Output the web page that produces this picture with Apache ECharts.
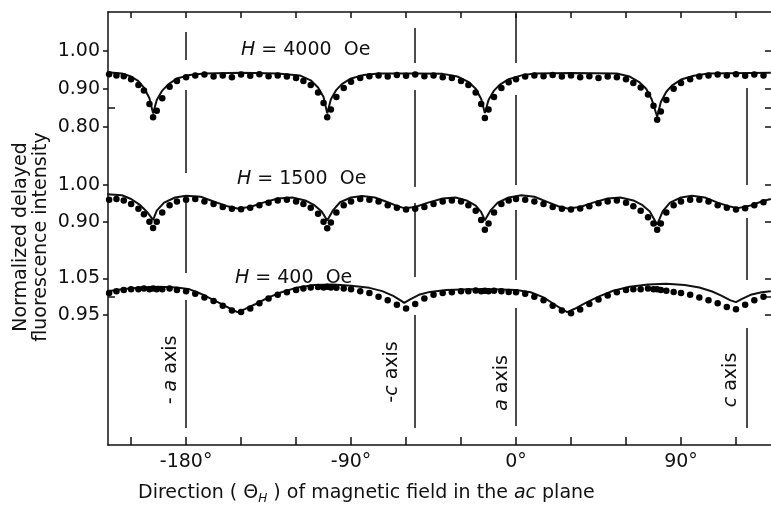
<!DOCTYPE html>
<html>
<head>
<meta charset="utf-8">
<script src="https://cdn.jsdelivr.net/npm/echarts@6/dist/echarts.min.js"></script>
<style>html,body{margin:0;background:#fff}#chart{width:771px;height:508px}</style>
</head>
<body>
<div id="chart"></div>
<script>
// measured angles (deg) shared by the three dot series
var dotAngles = [-222,-218,-214,-210,-206,-203,-200,-198,-196,-193,
  -189,-185,-180,-175,-170,-165,-160,-155,-150,-145,
  -140,-135,-130,-125,-120,-116,-112,-108,-105,-103,
  -101,-98,-94,-90,-85,-80,-75,-70,-65,-60,
  -55,-50,-45,-40,-35,-30,-26,-22,-19,-17,
  -15,-12,-8,-4,0,5,10,15,20,25,
  30,35,40,45,50,55,60,64,68,72,
  75,77,79,82,86,90,95,100,105,110,
  115,120,125,130,135];

var dots4000 = [0.938,0.935,0.933,0.925,0.91,0.895,0.86,0.825,0.842,0.875,
  0.905,0.92,0.93,0.935,0.937,0.932,0.935,0.93,0.937,0.934,
  0.938,0.933,0.935,0.932,0.928,0.92,0.91,0.89,0.862,0.825,
  0.845,0.878,0.902,0.918,0.928,0.933,0.935,0.932,0.936,0.934,
  0.937,0.933,0.935,0.93,0.928,0.92,0.91,0.89,0.86,0.823,
  0.845,0.878,0.902,0.917,0.925,0.932,0.935,0.933,0.936,0.932,
  0.935,0.93,0.933,0.928,0.932,0.93,0.925,0.915,0.903,0.885,
  0.855,0.818,0.84,0.87,0.9,0.915,0.925,0.932,0.935,0.937,
  0.935,0.938,0.934,0.937,0.935];

var dots1500 = [0.96,0.962,0.958,0.948,0.935,0.92,0.9,0.883,0.9,0.925,
  0.945,0.955,0.96,0.962,0.955,0.948,0.94,0.935,0.934,0.938,
  0.945,0.952,0.958,0.96,0.955,0.948,0.938,0.922,0.9,0.882,
  0.898,0.925,0.945,0.955,0.962,0.96,0.955,0.945,0.938,0.933,
  0.935,0.94,0.948,0.955,0.958,0.955,0.945,0.93,0.905,0.878,
  0.895,0.925,0.948,0.958,0.962,0.96,0.955,0.948,0.94,0.935,
  0.933,0.936,0.942,0.95,0.955,0.958,0.952,0.942,0.93,0.912,
  0.895,0.878,0.895,0.925,0.945,0.955,0.96,0.96,0.955,0.945,
  0.938,0.933,0.937,0.945,0.953];

var dots400 = [1.01,1.015,1.018,1.02,1.02,1.022,1.02,1.022,1.02,1.02,
  1.022,1.018,1.015,1.008,0.998,0.988,0.975,0.962,0.958,0.968,
  0.982,0.995,1.005,1.012,1.018,1.022,1.025,1.026,1.025,1.027,
  1.025,1.024,1.022,1.02,1.015,1.01,1.0,0.99,0.978,0.968,
  0.98,0.995,1.005,1.01,1.012,1.015,1.015,1.017,1.015,1.016,
  1.015,1.016,1.015,1.013,1.012,1.008,1.0,0.99,0.975,0.962,
  0.955,0.965,0.98,0.992,1.003,1.012,1.018,1.02,1.02,1.022,
  1.02,1.02,1.018,1.016,1.013,1.01,1.005,0.998,0.99,0.982,
  0.972,0.966,0.978,0.99,1.0];

// fitted curves
var fitAngles4000 = [-223,-215,-210,-206,-203,-200,-198,-196,-193,-190,
  -185,-178,-170,-150,-130,-118,-112,-108,-105,-103,
  -101,-98,-95,-90,-83,-75,-55,-40,-32,-26,
  -22,-19,-17,-15,-12,-9,-4,3,10,30,
  55,62,67,71,74,77,79,82,85,90,97,105,139];
var fit4000 = [0.943,0.94,0.932,0.92,0.903,0.875,0.835,0.87,0.895,0.91,
  0.927,0.936,0.94,0.942,0.94,0.935,0.922,0.903,0.878,0.835,
  0.872,0.897,0.912,0.927,0.936,0.94,0.94,0.939,0.932,0.918,
  0.9,0.873,0.836,0.87,0.895,0.91,0.925,0.935,0.94,0.941,
  0.94,0.932,0.918,0.9,0.872,0.826,0.865,0.892,0.908,0.924,0.934,0.94,0.942];

var fitAngles1500 = [-223,-215,-210,-205,-201,-198,-196,-192,-186,-180,
  -172,-165,-158,-152,-145,-138,-130,-122,-115,-110,
  -106,-103,-100,-96,-90,-84,-77,-70,-65,-61,
  -55,-48,-40,-33,-27,-22,-19,-17,-14,-10,
  -4,3,10,17,23,28,35,42,50,57,
  64,69,73,77,80,84,90,96,103,110,
  116,121,128,134,139];
var fit1500 = [0.975,0.972,0.962,0.945,0.925,0.905,0.93,0.952,0.966,0.971,
  0.968,0.955,0.943,0.936,0.94,0.952,0.963,0.966,0.958,0.945,
  0.928,0.903,0.93,0.953,0.966,0.97,0.966,0.953,0.943,0.937,
  0.94,0.952,0.963,0.966,0.958,0.944,0.926,0.904,0.93,0.952,
  0.966,0.972,0.968,0.954,0.942,0.936,0.94,0.952,0.963,0.966,
  0.958,0.945,0.928,0.892,0.928,0.952,0.966,0.971,0.966,0.952,
  0.942,0.937,0.944,0.955,0.962];

var fitAngles400 = [-223,-215,-205,-195,-185,-178,-172,-166,-160,-155,
  -152,-148,-142,-135,-128,-120,-110,-100,-90,-80,
  -73,-67,-63,-61,-58,-53,-47,-38,-25,-12,
  0,8,15,20,25,28,32,38,45,53,
  62,72,82,92,100,107,112,117,120,123,
  128,134,139];
var fit400 = [1.015,1.02,1.025,1.027,1.025,1.02,1.008,0.993,0.978,0.965,
  0.958,0.966,0.98,0.998,1.012,1.024,1.032,1.033,1.03,1.024,
  1.015,1.002,0.99,0.983,0.992,1.005,1.013,1.018,1.02,1.02,
  1.018,1.012,0.998,0.982,0.966,0.958,0.967,0.983,1.0,1.016,
  1.027,1.033,1.035,1.032,1.025,1.014,1.003,0.99,0.985,0.993,
  1.005,1.012,1.015];

var fieldOe = [4000, 1500, 400];
var yTicks4000 = [1.00, 0.90, 0.80], yInner4000 = [0.85];
var yTicks1500 = [1.00, 0.90], yInner1500 = [];
var yTicks400 = [1.05, 0.95], yInner400 = [1.00];

var xTicks = [-210,-180,-150,-120,-90,-60,-30,0,30,60,90,120];
var xLabels = [-180,-90,0,90];

// crystal axes in the ac plane
var refAngles = [-180, -55, 0, 126];
var refNames = ['- {i|a} axis', '-{i|c} axis', '{i|a} axis', '{i|c} axis'];

// ---- layout ----
var FONT = 'DejaVu Sans', INK = '#111';
var X_MIN = -222.6, X_MAX = 139.1;
var GRID = {left: 108, right: 0, top: 12, bottom: 63};
var FRAME_H = 433;
// vertical scale of each panel (fitted to the printed ticks)
var yRanges = [[-0.0377, 1.1018], [0.2916, 1.4714], [0.5958, 1.7756]];
var tagPos = [[241, 50], [237, 179], [235, 278]];
// pieces of each crystal axis line, rows below the frame top
var refSegs = [
  [[20,48],[78,161],[191,261],[288,416]],
  [[16,51],[78,175],[191,265],[303,416]],
  [[2,51],[83,173],[198,268],[296,414]],
  [[76,173],[206,268],[316,416]]
];
var refLabelDx = [-15, -23, -14, -16];
var refLabelY = [370, 372, 383, 380];

function pairs(xs, ys) { return xs.map(function (x, i) { return [x, ys[i]]; }); }

var panels = [
  {fx: fitAngles4000, fy: fit4000, dots: dots4000, ticks: yTicks4000, inner: yInner4000},
  {fx: fitAngles1500, fy: fit1500, dots: dots1500, ticks: yTicks1500, inner: yInner1500},
  {fx: fitAngles400, fy: fit400, dots: dots400, ticks: yTicks400, inner: yInner400}
];

var lineSty = {color: INK, width: 1.5};
var grids = [], xAxes = [], yAxes = [], series = [];
for (var g = 0; g < 4; g++) {
  grids.push(Object.assign({}, GRID));
  xAxes.push({
    type: 'value', gridIndex: g, min: X_MIN, max: X_MAX, show: g === 0, position: 'bottom',
    axisLine: {show: true, onZero: false, lineStyle: lineSty},
    axisTick: {inside: true, length: 8, customValues: xTicks, lineStyle: lineSty},
    axisLabel: {customValues: xLabels, formatter: function (v) { return v + '°'; },
      margin: 8, color: INK, fontFamily: FONT, fontSize: 19},
    splitLine: {show: false}
  });
}
xAxes.push({
  type: 'value', gridIndex: 0, min: X_MIN, max: X_MAX, position: 'top',
  axisLine: {show: true, onZero: false, lineStyle: lineSty},
  axisTick: {inside: true, length: 6, customValues: xTicks, lineStyle: lineSty},
  axisLabel: {show: false}, splitLine: {show: false}
});

panels.forEach(function (p, i) {
  var r = yRanges[i];
  yAxes.push({
    type: 'value', gridIndex: i, position: 'left', min: r[0], max: r[1],
    axisLine: {show: i === 0, onZero: false, lineStyle: lineSty},
    axisTick: {inside: false, length: 5, customValues: p.ticks, lineStyle: lineSty},
    axisLabel: {customValues: p.ticks, formatter: function (v) { return v.toFixed(2); },
      margin: 8, color: INK, fontFamily: FONT, fontSize: 19},
    splitLine: {show: false}
  });
  yAxes.push({
    type: 'value', gridIndex: i, position: 'right', min: r[0], max: r[1],
    axisLine: {show: false, onZero: false},
    axisTick: {inside: true, length: 6, customValues: p.ticks.concat(p.inner), lineStyle: lineSty},
    axisLabel: {show: false}, splitLine: {show: false}
  });
  yAxes.push({
    type: 'value', gridIndex: i, position: 'left', min: r[0], max: r[1], show: p.inner.length > 0,
    axisLine: {show: false, onZero: false},
    axisTick: {inside: true, length: 7, customValues: p.inner.length ? p.inner : [r[0]], lineStyle: lineSty},
    axisLabel: {show: false}, splitLine: {show: false}
  });
  series.push({
    type: 'line', xAxisIndex: i, yAxisIndex: 3 * i, data: pairs(p.fx, p.fy),
    showSymbol: false, symbol: 'none', lineStyle: {color: INK, width: 2}, z: 3, silent: true
  });
  series.push({
    type: 'scatter', xAxisIndex: i, yAxisIndex: 3 * i, data: pairs(dotAngles, p.dots),
    symbolSize: 6.5, itemStyle: {color: '#000', opacity: 1}, z: 4, silent: true
  });
});
yAxes.push({type: 'value', gridIndex: 3, min: 0, max: FRAME_H, inverse: true, show: false});

var segData = [];
refAngles.forEach(function (a, k) {
  refSegs[k].forEach(function (s) { segData.push({coords: [[a, s[0]], [a, s[1]]]}); });
});
series.push({
  type: 'lines', coordinateSystem: 'cartesian2d', xAxisIndex: 3, yAxisIndex: 9,
  lineStyle: {color: INK, width: 1.5, opacity: 1, curveness: 0}, data: segData, silent: true, z: 2
});

var chart = echarts.init(document.getElementById('chart'));
chart.setOption({
  animation: false, backgroundColor: '#fff',
  grid: grids, xAxis: xAxes, yAxis: yAxes, series: series
});

var txt = {fontFamily: FONT, fontSize: 19, fill: INK};
var rich = {i: {fontStyle: 'italic', fontFamily: FONT, fontSize: 19, fill: INK},
  sub: {fontStyle: 'italic', fontFamily: FONT, fontSize: 12, fill: INK, padding: [12, 0, 0, 0]}};
var graphics = [];
fieldOe.forEach(function (h, i) {
  graphics.push({type: 'text', x: tagPos[i][0], y: tagPos[i][1],
    style: Object.assign({text: '{i|H} = ' + h + '  Oe', rich: rich, textAlign: 'left', textVerticalAlign: 'middle'}, txt)});
});
refAngles.forEach(function (a, k) {
  var px = chart.convertToPixel({xAxisIndex: 3}, a);
  graphics.push({type: 'text', x: px + refLabelDx[k], y: refLabelY[k], rotation: Math.PI / 2,
    style: Object.assign({text: refNames[k], rich: rich, textAlign: 'center', textVerticalAlign: 'middle'}, txt)});
});
graphics.push({type: 'text', x: 31, y: 237, rotation: Math.PI / 2,
  style: Object.assign({text: 'Normalized delayed\nfluorescence intensity', textAlign: 'center',
    textVerticalAlign: 'middle', lineHeight: 20}, txt)});
graphics.push({type: 'text', x: 138, y: 493,
  style: Object.assign({text: 'Direction ( Θ{sub|H} ) of magnetic field in the {i|ac} plane', rich: rich,
    textAlign: 'left', textVerticalAlign: 'middle'}, txt)});
chart.setOption({graphic: graphics});
</script>
</body>
</html>
